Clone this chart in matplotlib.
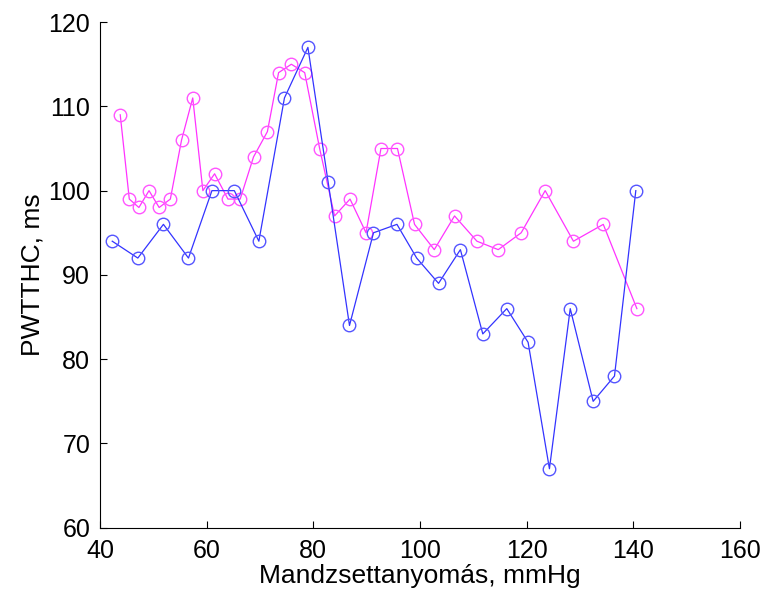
import matplotlib
matplotlib.use('Agg')
import matplotlib.pyplot as plt

plt.rcParams['font.family'] = ['Liberation Sans', 'DejaVu Sans']

# Magenta series
x_m = [43.8, 45.5, 47.3, 49.2, 51.1, 53.2, 55.3, 57.4, 59.3, 61.5, 64.0, 66.3,
       68.8, 71.4, 73.5, 75.9, 78.4, 81.2, 84.0, 86.9, 89.9, 92.7, 95.8, 99.0,
       102.7, 106.5, 110.7, 114.7, 119.0, 123.5, 128.8, 134.4, 140.7]
y_m = [109, 99, 98, 100, 98, 99, 106, 111, 100, 102, 99, 99,
       104, 107, 114, 115, 114, 105, 97, 99, 95, 105, 105, 96,
       93, 97, 94, 93, 95, 100, 94, 96, 86]

# Blue series
x_b = [42.3, 47.1, 51.9, 56.6, 61.0, 65.2, 69.8, 74.6, 79.0, 82.8, 86.8, 91.3,
       95.7, 99.4, 103.5, 107.6, 111.8, 116.3, 120.3, 124.3, 128.2, 132.5, 136.5, 140.5]
y_b = [94, 92, 96, 92, 100, 100, 94, 111, 117, 101, 84, 95,
       96, 92, 89, 93, 83, 86, 82, 67, 86, 75, 78, 100]

xticks = [40, 60, 80, 100, 120, 140, 160]
yticks = [60, 70, 80, 90, 100, 110, 120]

fig = plt.figure(figsize=(7.69, 5.97), dpi=100)
ax = fig.add_axes([0.130, 0.116, 0.832, 0.847])

ax.plot(x_m, y_m, '-', color='#ff33ff', linewidth=0.9)
ax.plot(x_m, y_m, 'o', markersize=9, markerfacecolor='none',
        markeredgecolor='#ff55ff', markeredgewidth=1.0)
ax.plot(x_b, y_b, '-', color='#3333ff', linewidth=0.9)
ax.plot(x_b, y_b, 'o', markersize=9, markerfacecolor='none',
        markeredgecolor='#5555ff', markeredgewidth=1.0)

ax.set_xlim(40, 160)
ax.set_ylim(60, 120)
ax.set_xticks(xticks)
ax.set_yticks(yticks)
ax.spines['top'].set_visible(False)
ax.spines['right'].set_visible(False)
ax.tick_params(direction='in', length=5, width=0.8, labelsize=18)
ax.tick_params(axis='x', pad=8)
ax.tick_params(axis='y', pad=7)

ax.set_xlabel('Mandzsettanyomás, mmHg', fontsize=19, labelpad=1)
ax.set_ylabel('PWTTHC, ms', fontsize=19, labelpad=3)

plt.savefig('out.png', dpi=100)
